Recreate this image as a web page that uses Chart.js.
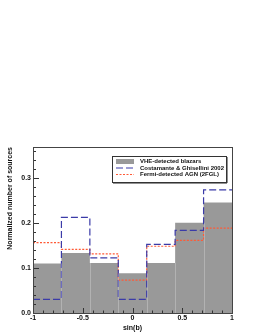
<!DOCTYPE html>
<html>
<head>
<meta charset="utf-8">
<script src="https://cdn.jsdelivr.net/npm/chart.js@4/dist/chart.umd.min.js"></script>
<style>
  html, body { margin: 0; padding: 0; background: #fff; }
  #wrap { width: 257px; height: 332px; }
</style>
</head>
<body>
<div id="wrap"><canvas id="histo" width="257" height="332"></canvas></div>
<script>
/* ─── Data ─── */
const binEdges = [-1, -0.7143, -0.4286, -0.1429, 0.1429, 0.4286, 0.7143, 1];
const vheBlazars = [0.110, 0.133, 0.111, 0.088, 0.111, 0.200, 0.245];
const costamante = [0.030, 0.212, 0.122, 0.030, 0.152, 0.183, 0.273];
const fermiAgn = [0.156, 0.141, 0.131, 0.073, 0.148, 0.161, 0.188];
const xTicks = [-1, -0.5, 0, 0.5, 1];
const yTicks = [0, 0.1, 0.2, 0.3];
const seriesLabels = ['VHE-detected blazars', 'Costamante & Ghisellini 2002', 'Fermi-detected AGN (2FGL)'];

const FONT = 'Liberation Sans, Arial, Helvetica, sans-serif';

/* histogram -> step points (left edge of each bin, plus closing right edge) */
function steps(vals) {
    const pts = binEdges.slice(0, -1).map(function (e, i) { return { x: e, y: vals[i] }; });
    pts.push({ x: binEdges[binEdges.length - 1], y: vals[vals.length - 1] });
    return pts;
}

/* ─── ROOT-style frame, inner ticks, legend box ─── */
const rootStyle = {
    id: 'rootStyle',
    afterDatasetsDraw: function (chart) {
        const ctx = chart.ctx;
        const a = chart.chartArea;
        const xs = chart.scales.x, ys = chart.scales.y;
        ctx.save();

        /* faint bin separators inside the grey histogram */
        ctx.strokeStyle = 'rgba(255,255,255,0.25)';
        ctx.lineWidth = 1;
        for (let i = 1; i < binEdges.length - 1; i++) {
            const h = Math.min(vheBlazars[i - 1], vheBlazars[i]);
            const px = Math.round(xs.getPixelForValue(binEdges[i])) + 0.5;
            ctx.beginPath();
            ctx.moveTo(px, ys.getPixelForValue(0));
            ctx.lineTo(px, ys.getPixelForValue(h));
            ctx.stroke();
        }

        /* ticks */
        ctx.strokeStyle = '#333';
        ctx.lineWidth = 1;
        ctx.beginPath();
        for (let k = 0; k <= 18; k++) {
            const v = k * 0.02;
            if (v > ys.max) break;
            const py = Math.round(ys.getPixelForValue(v)) + 0.5;
            const len = (k % 5 === 0) ? 6 : 3;
            ctx.moveTo(a.left, py); ctx.lineTo(a.left + len, py);
        }
        for (let k = -10; k <= 10; k++) {
            const px = Math.round(xs.getPixelForValue(k / 10)) + 0.5;
            const len = (k % 5 === 0) ? 5 : 2.5;
            ctx.moveTo(px, a.bottom); ctx.lineTo(px, a.bottom - len);
        }
        ctx.stroke();

        /* frame */
        ctx.strokeStyle = '#444';
        ctx.strokeRect(Math.round(a.left) + 0.5, Math.round(a.top) + 0.5,
            Math.round(a.right - a.left), Math.round(a.bottom - a.top));

        /* legend */
        const lx = 112, ly = 156, lw = 114, lh = 26;
        ctx.fillStyle = '#222';
        ctx.fillRect(lx + 1, ly + lh, lw, 1.5);
        ctx.fillRect(lx + lw, ly + 1, 1.5, lh);
        ctx.fillStyle = '#fff';
        ctx.fillRect(lx, ly, lw, lh);
        ctx.strokeStyle = '#333';
        ctx.strokeRect(lx + 0.5, ly + 0.5, lw, lh);

        const rows = [161.5, 168, 174.5];
        ctx.fillStyle = '#999';
        ctx.fillRect(116, 159, 18, 5);
        ctx.lineWidth = 1.2;
        ctx.strokeStyle = '#3b3ba8';
        ctx.setLineDash([7, 3]);
        ctx.beginPath(); ctx.moveTo(116, rows[1]); ctx.lineTo(134, rows[1]); ctx.stroke();
        ctx.strokeStyle = '#ff5a36';
        ctx.setLineDash([2, 1.5]);
        ctx.beginPath(); ctx.moveTo(116, rows[2]); ctx.lineTo(134, rows[2]); ctx.stroke();
        ctx.setLineDash([]);

        ctx.fillStyle = '#111';
        ctx.font = 'bold 6px ' + FONT;
        ctx.textBaseline = 'middle';
        ctx.textAlign = 'left';
        seriesLabels.forEach(function (t, i) { ctx.fillText(t, 140, rows[i]); });
        ctx.restore();
    }
};

new Chart(document.getElementById('histo').getContext('2d'), {
    type: 'line',
    data: {
        datasets: [{
            label: seriesLabels[0],
            data: steps(vheBlazars),
            stepped: 'before',
            fill: 'origin',
            backgroundColor: '#999999',
            borderColor: '#999999',
            borderWidth: 0,
            pointRadius: 0,
            order: 3
        }, {
            label: seriesLabels[1],
            data: steps(costamante),
            stepped: 'before',
            fill: false,
            borderColor: '#3b3ba8',
            borderWidth: 1.2,
            borderDash: [7, 3],
            pointRadius: 0,
            order: 1
        }, {
            label: seriesLabels[2],
            data: steps(fermiAgn),
            stepped: 'before',
            fill: false,
            borderColor: '#ff5a36',
            borderWidth: 1.2,
            borderDash: [2, 1.5],
            pointRadius: 0,
            order: 2
        }]
    },
    options: {
        responsive: false,
        animation: false,
        events: [],
        layout: { padding: { left: 3, right: 25, top: 147, bottom: 0 } },
        plugins: { legend: { display: false }, tooltip: { enabled: false } },
        scales: {
            x: {
                type: 'linear',
                min: -1,
                max: 1,
                grid: { display: false, drawTicks: false },
                border: { display: false },
                afterBuildTicks: function (s) { s.ticks = xTicks.map(function (v) { return { value: v }; }); },
                afterFit: function (s) { s.height = 19; },
                ticks: {
                    color: '#111',
                    padding: 1,
                    maxRotation: 0,
                    font: { size: 7, weight: 'bold', family: FONT },
                    callback: function (v) { return String(v); }
                },
                title: {
                    display: true,
                    text: 'sin(b)',
                    color: '#111',
                    padding: 0,
                    font: { size: 7, weight: 'bold', family: FONT }
                }
            },
            y: {
                min: 0,
                max: 0.368,
                grid: { display: false, drawTicks: false },
                border: { display: false },
                afterBuildTicks: function (s) { s.ticks = yTicks.map(function (v) { return { value: v }; }); },
                afterFit: function (s) { s.width = 30; },
                ticks: {
                    color: '#111',
                    padding: 2,
                    font: { size: 7, weight: 'bold', family: FONT },
                    callback: function (v) { return v.toFixed(1); }
                },
                title: {
                    display: true,
                    text: 'Normalized number of sources',
                    align: 'end',
                    color: '#111',
                    padding: { top: 3, bottom: 0 },
                    font: { size: 7, weight: 'bold', family: FONT }
                }
            }
        }
    },
    plugins: [rootStyle]
});
</script>
</body>
</html>
